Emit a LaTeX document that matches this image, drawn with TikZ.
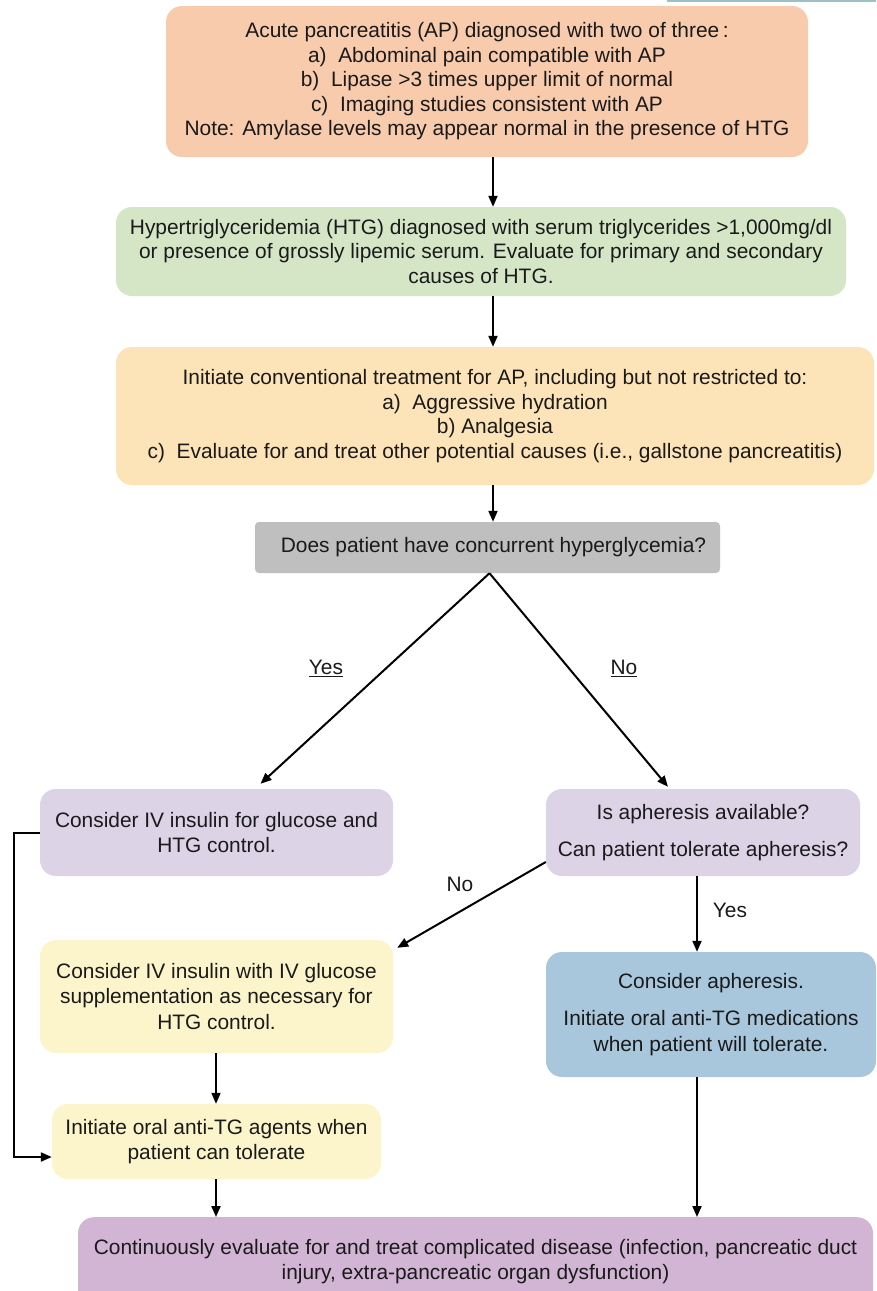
\documentclass[tikz,border=0pt]{standalone}
\usepackage{fontspec}
\setmainfont{Liberation Sans}
\usetikzlibrary{arrows.meta,calc}
\definecolor{cAP}{HTML}{F8CBAD}
\definecolor{cHTG}{HTML}{D5E6C7}
\definecolor{cTreat}{HTML}{FDE4B8}
\definecolor{cQ}{HTML}{BFBFBF}
\definecolor{cLav}{HTML}{DCD3E6}
\definecolor{cYel}{HTML}{FCF5CC}
\definecolor{cBlue}{HTML}{A9C7DC}
\definecolor{cPur}{HTML}{D2B5D4}
\definecolor{txt}{HTML}{1A1A1A}
\definecolor{cEdge}{HTML}{9DBFC6}
\begin{document}
\begin{tikzpicture}[x=1pt,y=-1pt,
  box/.style={rounded corners=16pt, draw=none, align=center, inner sep=0pt, text=txt},
  nbox/.style={box, font=\fontsize{20.9}{24.5}\selectfont},
  wbox/.style={box, font=\fontsize{20.9}{25.5}\selectfont},
  arr/.style={line width=2pt, draw=black, -{Triangle[length=11pt,width=9pt]}},
  lbl/.style={font=\fontsize{20.9}{24}\selectfont, text=txt, inner sep=1pt}]
\clip (0,0) rectangle (876,1291);
\fill[white] (0,0) rectangle (876,1291);
\draw[cEdge, line width=1.5pt] (667,0.75) -- (876,0.75);

\node[nbox, fill=cAP, minimum width=642pt, minimum height=151pt] (b1) at (487,81.5)
  {Acute pancreatitis (AP) diagnosed with two of three\,:\\
   a)\ \ Abdominal pain compatible with AP\\
   b)\ \ Lipase >3 times upper limit of normal\\
   c)\ \ Imaging studies consistent with AP\\
   Note: Amylase levels may appear normal in the presence of HTG};

\node[nbox, fill=cHTG, minimum width=730pt, minimum height=89pt] (b2) at (481,251.5)
  {Hypertriglyceridemia (HTG) diagnosed with serum triglycerides >1,000mg/dl\\
   or presence of grossly lipemic serum. Evaluate for primary and secondary\\
   causes of HTG.};

\node[nbox, fill=cTreat, minimum width=758pt, minimum height=138pt] (b3) at (495,416)
  {Initiate conventional treatment for AP, including but not restricted to:\\
   a)\ \ Aggressive hydration\\
   b) Analgesia\\
   c)\ \ Evaluate for and treat other potential causes (i.e., gallstone pancreatitis)};

\node[wbox, fill=cQ, rounded corners=4pt, minimum width=465pt, minimum height=51pt] (b4) at (487.5,547.5)
  {\hspace*{12pt}Does patient have concurrent hyperglycemia?};

\node[wbox, fill=cLav, minimum width=353pt, minimum height=87pt] (b5) at (216.5,832.5)
  {Consider IV insulin for glucose and\\ HTG control.};

\node[wbox, fill=cLav, minimum width=314pt, minimum height=87pt] (b6) at (703,832.5)
  {Is apheresis available?\\[12pt] Can patient tolerate apheresis?};

\node[wbox, fill=cYel, minimum width=353pt, minimum height=113pt] (b7) at (216.5,996.5)
  {Consider IV insulin with IV glucose\\ supplementation as necessary for\\ HTG control.};

\node[wbox, fill=cBlue, minimum width=330pt, minimum height=125pt] (b8) at (711,1014.5)
  {Consider apheresis.\\[12pt] Initiate oral anti-TG medications\\ when patient will tolerate.};

\node[nbox, fill=cYel, minimum width=329pt, minimum height=75pt] (b9) at (216.5,1141.5)
  {Initiate oral anti-TG agents when\\ patient can tolerate};

\node[nbox, fill=cPur, minimum width=795pt, minimum height=90pt, anchor=north] (b10) at (475.5,1217)
  {\raisebox{7pt}{\begin{tabular}{@{}c@{}}Continuously evaluate for and treat complicated disease (infection, pancreatic duct\\ injury, extra-pancreatic organ dysfunction)\end{tabular}}};

\coordinate (mx) at (493,0);
\coordinate (lx) at (216,0);
\coordinate (rx) at (697,0);
\draw[arr] (b1.south -| mx) -- (b2.north -| mx);
\draw[arr] (b2.south -| mx) -- (b3.north -| mx);
\draw[arr] (b3.south -| mx) -- (b4.north -| mx);
\draw[arr] ([xshift=2pt]b4.south) -- ([xshift=44pt,yshift=5pt]b5.north);
\draw[arr] ([xshift=2pt]b4.south) -- ([xshift=-35pt,yshift=2pt]b6.north);
\draw[arr] ([yshift=-29.5pt]b6.west) -- ([xshift=4pt,yshift=-8pt]b7.north east);
\draw[arr] (b6.south -| rx) -- (b8.north -| rx);
\draw[arr] (b7.south -| lx) -- (b9.north -| lx);
\draw[arr] (b9.south -| lx) -- (b10.north -| lx);
\draw[arr] (b8.south -| rx) -- (b10.north -| rx);
\coordinate (lt) at (13.5,832.5);
\draw[arr] (b5.west) -- (lt) |- ([yshift=-15.5pt]b9.west);

\node[lbl] (yes1) at (326,668) {\underline{Yes}};
\node[lbl] (no1) at (624,668) {\underline{No}};
\node[lbl] (no2) at (460,884) {No};
\node[lbl] (yes2) at (730,910) {Yes};
\end{tikzpicture}
\end{document}
